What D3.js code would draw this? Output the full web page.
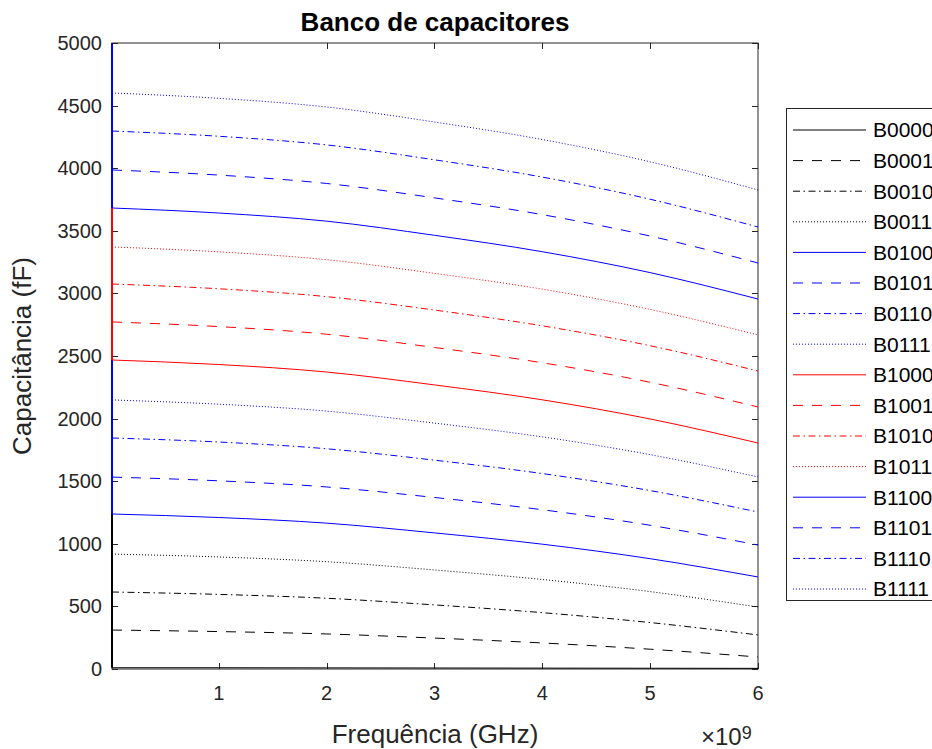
<!DOCTYPE html>
<html><head><meta charset="utf-8">
<script src="https://cdn.jsdelivr.net/npm/d3@7"></script>
<style>body{margin:0;background:#fff} text{font-family:"Liberation Sans",Arial,Helvetica,sans-serif}</style>
</head><body><svg id="c" width="932" height="749"></svg>
<script>
const frequencies = [1e7, 1e9, 2e9, 3e9, 4e9, 5e9, 6e9];
const seriesNames = ["B0000","B0001","B0010","B0011","B0100","B0101","B0110","B0111",
                     "B1000","B1001","B1010","B1011","B1100","B1101","B1110","B1111"];
const seriesValues = [
  [10, 10, 9, 8, 7, 6, 5],
  [311, 299, 280, 247, 208, 158, 96],
  [615, 596, 565, 512, 450, 371, 272],
  [918, 895, 857, 791, 715, 618, 495],
  [3682, 3642, 3577, 3464, 3333, 3166, 2955],
  [3986, 3945, 3878, 3763, 3629, 3458, 3243],
  [4297, 4255, 4186, 4067, 3929, 3752, 3530],
  [4601, 4558, 4489, 4369, 4229, 4051, 3826],
  [2468, 2432, 2372, 2269, 2150, 1997, 1805],
  [2772, 2735, 2674, 2568, 2446, 2290, 2093],
  [3075, 3037, 2974, 2867, 2741, 2582, 2380],
  [3371, 3332, 3269, 3160, 3034, 2872, 2668],
  [1238, 1210, 1165, 1087, 997, 881, 735],
  [1533, 1503, 1454, 1370, 1272, 1148, 990],
  [1845, 1813, 1759, 1668, 1561, 1425, 1254],
  [2149, 2115, 2060, 1964, 1854, 1712, 1534]
];
// value of the first (DC) sample, where it jumps away from the curve
const dcValues = [1238, null, null, null, 5300, null, null, null,
                  3682, null, null, null, 2468, null, null, null];
const seriesColors = ["#000000","#000000","#000000","#000000","#0000ff","#0000ff","#0000ff","#0000ff",
                      "#ff0000","#ff0000","#ff0000","#ff0000","#0000ff","#0000ff","#0000ff","#0000ff"];
const seriesStyles = ["solid","dashed","dashdot","dotted","solid","dashed","dashdot","dotted",
                      "solid","dashed","dashdot","dotted","solid","dashed","dashdot","dotted"];
const yTicks = [0,500,1000,1500,2000,2500,3000,3500,4000,4500,5000];
const xTicks = [1e9,2e9,3e9,4e9,5e9,6e9];
const titleText = "Banco de capacitores";
const xLabel = "Frequência (GHz)";
const yLabel = "Capacitância (fF)";

const dashMap = {solid: null, dashed: "10,9", dashdot: "7,3.5,1.5,3.5", dotted: "1,2"};
const axisColor = "#262626";

const svg = d3.select("#c");
const L = 112, T = 43, R = 758, B = 669;
const x = d3.scaleLinear().domain([frequencies[0], 6e9]).range([L, R]);
const y = d3.scaleLinear().domain([0, 5000]).range([B, T]);

svg.append("rect").attr("width",932).attr("height",749).attr("fill","#fff");

// axes box
const ax = svg.append("g");
ax.append("rect").attr("x",L).attr("y",T).attr("width",R-L).attr("height",B-T)
  .attr("fill","#fff").attr("stroke",axisColor).attr("stroke-width",1);
const tl = 6;
yTicks.forEach(v => {
  const yy = Math.round(y(v)) + 0.5;
  ax.append("line").attr("x1",L).attr("x2",L+tl).attr("y1",yy).attr("y2",yy).attr("stroke",axisColor);
  ax.append("line").attr("x1",R-tl).attr("x2",R).attr("y1",yy).attr("y2",yy).attr("stroke",axisColor);
  ax.append("text").attr("x",L-10).attr("y",y(v)).attr("dy","0.35em").attr("text-anchor","end")
    .attr("font-size",20).attr("fill",axisColor).text(v);
});
xTicks.forEach(v => {
  const xx = Math.round(x(v)) + 0.5;
  ax.append("line").attr("x1",xx).attr("x2",xx).attr("y1",B).attr("y2",B-tl).attr("stroke",axisColor);
  ax.append("line").attr("x1",xx).attr("x2",xx).attr("y1",T).attr("y2",T+tl).attr("stroke",axisColor);
  ax.append("text").attr("x",x(v)).attr("y",B+24).attr("dy","0.35em").attr("text-anchor","middle")
    .attr("font-size",20).attr("fill",axisColor).text(v/1e9);
});

// clip
svg.append("clipPath").attr("id","clip").append("rect")
  .attr("x",L-1).attr("y",T).attr("width",R-L+2).attr("height",B-T);
const plot = svg.append("g").attr("clip-path","url(#clip)");
const line = d3.line().x(d => x(d[0])).y(d => y(d[1])).curve(d3.curveMonotoneX);

seriesNames.forEach((name, i) => {
  const pts = frequencies.map((f, k) => [f, seriesValues[i][k]]);
  if (dcValues[i] !== null) {
    plot.append("path").datum([[frequencies[0], seriesValues[i][0]], [frequencies[0], dcValues[i]]])
      .attr("d", d3.line().x(d => x(d[0])).y(d => y(d[1])))
      .attr("stroke", seriesColors[i]).attr("stroke-width", 2).attr("fill","none");
  }
  plot.append("path").datum(pts).attr("d", line)
    .attr("fill","none").attr("stroke",seriesColors[i]).attr("stroke-width",1)
    .attr("stroke-dasharray", dashMap[seriesStyles[i]]);
});

// title & labels
svg.append("text").attr("x",(L+R)/2).attr("y",31).attr("text-anchor","middle")
  .attr("font-size",26).attr("font-weight","bold").attr("fill","#000").text(titleText);
svg.append("text").attr("x",(L+R)/2).attr("y",743).attr("text-anchor","middle")
  .attr("font-size",26).attr("fill",axisColor).text(xLabel);
svg.append("text").attr("transform",`translate(31,${(T+B)/2}) rotate(-90)`)
  .attr("text-anchor","middle").attr("font-size",26).attr("fill",axisColor).text(yLabel);
const mult = svg.append("text").attr("x",701).attr("y",745).attr("font-size",24).attr("fill",axisColor);
mult.append("tspan").text("×10");
mult.append("tspan").attr("font-size",18).attr("dy",-6).text("9");

// legend
const lg = svg.append("g");
const lx = 786, ly = 108, rowH = 30.6;
lg.append("rect").attr("x",lx+0.5).attr("y",ly+0.5).attr("width",160).attr("height",492)
  .attr("fill","#fff").attr("stroke",axisColor).attr("stroke-width",1);
seriesNames.forEach((name, i) => {
  const yy = ly + 22 + i*rowH;
  lg.append("line").attr("x1",lx+7).attr("x2",lx+80).attr("y1",yy).attr("y2",yy)
    .attr("stroke",seriesColors[i]).attr("stroke-width",1)
    .attr("stroke-dasharray", dashMap[seriesStyles[i]]);
  lg.append("text").attr("x",lx+87).attr("y",yy).attr("dy","0.35em").attr("font-size",21)
    .attr("fill","#000").text(name);
});
</script></body></html>
